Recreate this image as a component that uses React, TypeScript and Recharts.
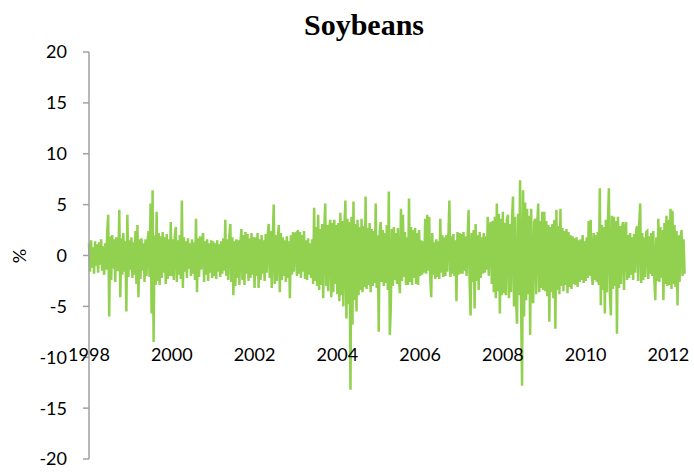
import React from 'react';
import { LineChart, Line, XAxis, YAxis } from 'recharts';

// daily soybean returns (%), sampled ~41 points per year
const r1998 = [1.2, -1.6, 1.5, -1.2, 0.8, -1.8, 1.4, -1.0, 1.1, -1.7, 1.3, -0.9, 1.6, -1.5, 0.9, -1.9, 1.2, -1.4, 2.2, 4.0, -6.0, 1.9, -2.4, 2.0, -1.3, 1.6, -2.6, 1.8, -1.5, -1.2, 4.5, -4.1, 1.7, -1.9, 2.2, -1.6, 1.4, -5.5, 4.0, -2.1, 1.5];
const r1999 = [-1.4, 1.8, -2.2, 1.3, -1.9, 2.4, -2.8, 3.0, -4.1, 1.6, -2.3, 1.7, -1.5, 1.2, -2.6, 1.6, -2.0, 1.4, 2.4, -2.1, 5.1, -5.7, 6.4, -8.5, 2.0, -2.9, 4.3, -2.5, 2.2, -2.9, 1.9, -2.2, 2.3, -1.7, 1.8, -2.8, 2.1, -2.3, 1.6, -2.0, 3.3];
const r2000 = [-2.0, 1.6, -2.4, 1.9, 2.8, -2.6, 1.5, -1.9, 2.0, -2.3, 5.4, -3.2, 1.8, -1.6, 1.4, -2.2, 1.7, -1.3, 1.2, -2.0, 1.6, -1.8, 1.3, -2.4, 3.6, -3.6, 1.7, -2.1, 1.9, -1.4, 1.5, 2.2, -2.6, 1.4, -1.9, 1.6, -2.5, 1.2, -1.7, 1.5, -2.2];
const r2001 = [1.4, -2.0, 1.2, -2.3, 1.5, -1.6, 1.1, -2.1, 1.4, -1.8, 1.7, -1.5, 3.5, -2.0, 1.6, -2.4, 1.9, 3.1, -2.6, 1.8, -3.9, 1.4, -3.0, 1.6, -2.2, 1.5, -2.9, 1.3, 2.6, -2.4, 2.0, -2.9, 2.3, -1.8, 2.1, -2.5, 1.7, -2.2, 2.2, -1.9, 1.8];
const r2002 = [-3.2, 1.8, -2.0, 2.2, -3.2, 1.6, -2.4, 2.0, -1.8, 1.5, -2.5, 2.1, -1.7, 1.9, 3.1, -2.2, 2.4, -3.2, 1.7, 5.0, -2.8, 2.0, -2.5, 1.6, 3.0, -3.6, 2.2, -2.4, 1.8, -2.0, 1.5, -2.6, 1.9, -2.2, 1.4, -4.2, 2.0, -1.9, 2.3, -1.6, 2.1];
const r2003 = [2.2, -2.0, 2.5, -1.8, 2.3, -2.2, 2.0, -1.6, 2.4, -2.3, 1.5, -2.4, 1.7, -1.9, 1.2, -2.2, 1.6, -2.8, 4.7, -2.5, 2.8, -3.0, 4.0, -3.4, 2.6, -2.9, 3.1, -4.2, 2.4, 5.1, -3.0, 3.0, -3.5, 2.7, 3.5, -4.1, 3.2, -3.6, 3.5, -2.8, 3.0];
const r2004 = [-3.8, 3.2, -4.5, 4.2, -3.9, 3.4, -5.0, 2.9, 5.4, -6.2, 3.6, -4.8, 3.3, -13.2, 3.8, -6.8, 5.3, -4.4, 3.1, -5.5, 3.5, -3.9, 2.8, -3.4, 3.6, -3.6, 2.9, -3.1, 5.8, -3.3, 2.7, -2.9, 3.2, -3.6, 2.6, -3.0, 2.4, -2.7, 5.1, -3.2, 2.0];
const r2005 = [-7.5, 2.4, 3.3, -2.6, 2.5, -3.0, 2.2, -2.7, 3.0, -3.4, 6.3, -7.8, -5.0, 2.6, -3.0, 2.8, -2.4, 2.2, -2.8, 2.7, -2.2, -3.7, 4.6, -2.5, 4.0, -2.1, 2.3, -2.9, 1.8, -2.9, 5.6, -2.6, 2.8, -2.9, 2.5, -2.2, 2.7, -2.8, 2.2, -2.9, 2.5];
const r2006 = [-2.0, 1.5, -1.9, 1.4, -1.7, 3.6, -1.8, 4.0, -1.5, 3.8, -2.0, -4.1, 2.2, -1.9, 1.3, -2.3, 1.6, -2.1, 1.4, -2.3, 3.6, -1.7, 2.0, -2.1, 1.8, -2.0, 2.0, -1.6, 1.7, 5.4, -2.1, 1.9, -1.8, 2.1, -2.0, 1.5, -4.5, 2.3, -1.9, 2.2, -1.8];
const r2007 = [2.1, -1.8, 2.3, -1.5, 1.9, -2.0, 1.7, 4.5, -2.4, -5.9, 2.2, -2.6, 2.5, -5.2, 3.1, -2.5, 2.0, -3.4, 2.3, -2.2, 1.8, -1.8, 2.2, -1.7, 1.9, -1.4, 3.8, -2.0, 2.6, 3.3, -2.8, 3.4, -3.6, 3.8, -4.2, 5.1, -3.5, 4.1, -5.7, 3.6, -3.9];
const r2008 = [4.3, -3.7, 3.2, -3.9, 3.5, 4.0, -4.2, 3.1, -3.6, 3.4, 5.8, -5.0, 3.8, -4.1, -6.7, 4.1, -3.9, 7.4, -4.5, -12.8, 6.4, -6.0, 5.2, -4.4, 4.6, -3.8, 3.9, -7.8, 4.6, -3.5, -4.7, 3.3, 3.6, -3.8, 3.0, 5.1, -3.6, 3.4, -3.2, 4.3, -3.4];
const r2009 = [4.3, -3.5, 3.4, -4.0, 3.0, -6.5, 2.8, -3.6, 3.1, -4.2, 3.5, -7.2, 4.5, -3.4, 2.9, -3.8, 4.6, -3.0, 2.7, -3.5, 2.4, -2.9, 2.6, -3.7, 2.3, -3.1, 2.0, -3.3, 1.9, -2.8, 1.7, -2.9, 1.8, -3.1, 1.5, -2.6, 1.6, -2.4, 2.0, -2.7, 1.4];
const r2010 = [-2.5, 1.8, -2.2, 3.4, -2.0, 3.5, -1.9, -2.9, 2.2, -2.4, 2.0, -2.6, 2.3, -2.9, 6.6, -4.9, 3.0, -3.4, 2.8, -5.7, 3.5, -3.6, 3.2, 6.6, -3.8, -5.9, 3.9, -3.3, 3.8, -3.0, 3.4, -7.7, 3.8, -3.2, 2.9, -2.8, 2.6, 3.3, -3.4, 2.5, 3.3];
const r2011 = [-2.4, 2.0, -2.2, 2.2, -1.9, 1.8, -2.4, 2.1, -1.7, 2.5, 2.9, -2.5, 3.0, 5.1, -2.7, 2.2, -2.4, 1.8, -2.1, 2.3, 2.4, -2.3, 1.9, -1.8, 2.2, -2.0, 2.4, -2.3, -4.4, 1.8, -2.5, 3.6, -2.6, 2.8, -2.2, 2.5, -4.4, 3.2, -2.8, 3.9, -3.0];
const r2012 = [3.5, -2.9, 4.6, -3.3, 4.4, -2.8, 3.0, -3.1, 2.4, -4.9, 2.0, -2.6, 1.8, 2.5, -2.0, 1.6, -1.8];

const years = [1998, 1999, 2000, 2001, 2002, 2003, 2004, 2005, 2006, 2007, 2008, 2009, 2010, 2011, 2012];
const yearlyReturns = [r1998, r1999, r2000, r2001, r2002, r2003, r2004, r2005, r2006, r2007, r2008, r2009, r2010, r2011, r2012];
const xTicks = [1998, 2000, 2002, 2004, 2006, 2008, 2010, 2012];
const yTicks = [-20, -15, -10, -5, 0, 5, 10, 15, 20];

const POINTS_PER_YEAR = 41;

const data = years.flatMap((yr, k) =>
  yearlyReturns[k].map((v, i) => ({ t: yr + i / POINTS_PER_YEAR, v }))
);

const FONT = 'Lato, "Open Sans", sans-serif';
const AXIS_GREY = '#a0a0a0';

// year labels sit up inside the plot, level with the -10 tick
const renderYearTick = (props: any) => {
  const { x, payload, index } = props;
  return (
    <text key={`yr-${index}`} x={x} y={361} textAnchor="middle" fill="#000" fontSize={18} fontFamily={FONT}>
      {payload.value}
    </text>
  );
};

export default function App() {
  return (
    <div style={{ position: 'absolute', left: 0, top: 0, width: 694, height: 472, background: '#fff' }}>
      <LineChart width={694} height={472} data={data} margin={{ top: 52, right: 9, bottom: 0, left: 0 }}>
        <XAxis
          type="number"
          dataKey="t"
          domain={[1998, 2012.4]}
          ticks={xTicks}
          axisLine={false}
          tickLine={false}
          height={13}
          tick={renderYearTick}
          interval={0}
        />
        <YAxis
          type="number"
          domain={[-20, 20]}
          ticks={yTicks}
          width={89}
          axisLine={{ stroke: AXIS_GREY, strokeWidth: 1.5 }}
          tickLine={{ stroke: AXIS_GREY, strokeWidth: 1.5 }}
          tickSize={6}
          tickMargin={16}
          tick={{ fill: '#000', fontSize: 18, fontFamily: FONT }}
          interval={0}
        />
        <Line
          type="linear"
          dataKey="v"
          stroke="#92D050"
          strokeWidth={2.5}
          dot={false}
          isAnimationActive={false}
        />
      </LineChart>
      <svg width={694} height={472} style={{ position: 'absolute', left: 0, top: 0, pointerEvents: 'none' }}>
        <text x={364} y={35} textAnchor="middle" fontFamily='"Liberation Serif", "Times New Roman", serif' fontWeight="bold" fontSize={30} fill="#000">
          Soybeans
        </text>
        <text x={26} y={256} textAnchor="middle" transform="rotate(-90 26 256)" fontFamily={FONT} fontSize={18} fill="#000">
          %
        </text>
      </svg>
    </div>
  );
}
